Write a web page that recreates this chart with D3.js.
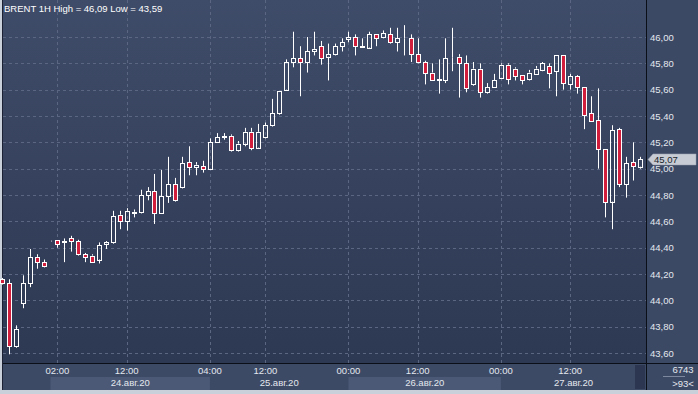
<!DOCTYPE html>
<html>
<head>
<meta charset="utf-8">
<script src="https://cdn.jsdelivr.net/npm/d3@7"></script>
<style>
  html, body { margin: 0; padding: 0; background: #c9d0da; }
  svg { display: block; }
  text { font-family: "Liberation Sans", Arial, sans-serif; }
</style>
</head>
<body>
<div id="chart"></div>
<script>
// BRENT 1H candles
const opens  = [44.16,44.13,43.65,43.98,44.13,44.33,44.29,44.45,44.46,44.44,44.47,44.45,44.35,44.34,44.31,44.43,44.44,44.65,44.60,44.665,
                44.67,44.80,44.83,44.66,44.79,44.88,44.86,45.05,45.01,45.02,45.00,45.20,45.24,45.25,45.14,45.19,45.28,45.16,45.24,45.33,
                45.42,45.60,45.81,45.84,45.81,45.89,45.93,45.85,45.87,45.93,45.985,46.00,45.93,45.92,46.02,46.00,46.02,45.96,45.99,45.99,
                45.87,45.81,45.73,45.676,45.67,45.846,45.85,45.80,45.64,45.76,45.58,45.62,45.69,45.79,45.76,45.71,45.68,45.72,45.75,45.78,
                45.74,45.86,45.64,45.70,45.62,45.42,45.37,45.15,44.75,45.30,44.88,45.05,45.015];
const highs  = [44.17,44.16,43.81,44.19,44.39,44.35,44.31,44.453,44.46,44.47,44.49,44.46,44.36,44.35,44.44,44.45,44.68,44.68,44.70,44.69,
                44.84,44.86,44.96,44.99,45.09,44.93,45.09,45.17,45.05,45.06,45.23,45.27,45.27,45.26,45.21,45.31,45.31,45.34,45.35,45.53,
                45.59,45.83,46.04,45.93,46.00,46.04,45.97,45.95,45.95,45.99,46.04,46.02,45.99,46.04,46.02,46.05,46.07,46.07,46.09,46.02,
                45.99,45.82,45.80,45.83,45.99,46.07,45.87,45.86,45.81,45.80,45.65,45.72,45.80,45.80,45.77,45.71,45.75,45.78,45.81,45.80,
                45.86,45.86,45.72,45.71,45.62,45.55,45.61,45.15,45.33,45.31,45.09,45.20,45.09];
const lows   = [44.12,43.59,43.64,43.94,44.10,44.24,44.25,44.447,44.40,44.29,44.37,44.34,44.29,44.29,44.28,44.39,44.43,44.54,44.53,44.63,
                44.66,44.76,44.58,44.66,44.74,44.75,44.85,44.95,44.95,44.97,45.00,45.20,45.22,45.13,45.13,45.17,45.14,45.15,45.23,45.32,
                45.41,45.59,45.77,45.55,45.73,45.86,45.79,45.67,45.86,45.89,45.96,45.86,45.92,45.91,45.93,45.99,45.95,45.89,45.86,45.81,
                45.80,45.64,45.67,45.57,45.65,45.74,45.54,45.58,45.63,45.54,45.57,45.62,45.68,45.64,45.67,45.64,45.67,45.72,45.74,45.61,
                45.55,45.60,45.60,45.57,45.30,45.36,45.00,44.63,44.54,44.86,44.78,44.91,45.00];
const closes = [44.13,43.65,43.78,44.13,44.33,44.29,44.26,44.45,44.43,44.45,44.45,44.35,44.33,44.29,44.42,44.44,44.64,44.60,44.68,44.672,
                44.80,44.83,44.66,44.79,44.88,44.76,45.04,45.01,45.03,45.00,45.20,45.24,45.245,45.14,45.19,45.28,45.16,45.28,45.33,45.42,
                45.59,45.81,45.84,45.81,45.89,45.91,45.84,45.87,45.93,45.96,46.00,45.93,45.926,46.02,45.99,46.03,45.96,45.99,45.99,45.87,
                45.81,45.73,45.67,45.679,45.84,45.846,45.80,45.61,45.76,45.58,45.62,45.67,45.79,45.68,45.70,45.67,45.73,45.76,45.80,45.73,
                45.86,45.65,45.70,45.62,45.41,45.36,45.15,44.75,45.29,44.88,45.04,45.02,45.07];

// time axis
const timeTickIdx    = [8, 18, 30, 38, 50, 60, 72, 82];
const timeTickLabels = ["02:00", "12:00", "04:00", "12:00", "00:00", "12:00", "00:00", "12:00"];
const dayStartIdx    = [7, 30, 50, 72];
const dayLabels      = ["24.авг.20", "25.авг.20", "26.авг.20", "27.авг.20"];

// price axis
const priceTicks = [43.6, 43.8, 44.0, 44.2, 44.4, 44.6, 44.8, 45.0, 45.2, 45.4, 45.6, 45.8, 46.0];

const width = 698, height = 394;
const plotL = 3, plotR = 646, plotT = 0, plotB = 363;
const axisB = 390;

const svg = d3.select("#chart").append("svg")
    .attr("width", width)
    .attr("height", height);

const defs = svg.append("defs");
const grad = defs.append("linearGradient")
    .attr("id", "bg").attr("x1", 0).attr("y1", 0).attr("x2", 0).attr("y2", 1);
grad.append("stop").attr("offset", "0%").attr("stop-color", "#3f4c69");
grad.append("stop").attr("offset", "100%").attr("stop-color", "#2d3852");

// outer frame
svg.append("rect").attr("x", 0).attr("y", 0).attr("width", width).attr("height", height).attr("fill", "#c9d0da");
svg.append("rect").attr("x", 2).attr("y", 0).attr("width", width - 2).attr("height", axisB).attr("fill", "#1c2233");

// plot area
svg.append("rect")
    .attr("x", plotL).attr("y", plotT)
    .attr("width", plotR - plotL).attr("height", plotB - plotT)
    .attr("fill", "url(#bg)");

// right and bottom panels
svg.append("rect").attr("x", plotR + 1).attr("y", 0).attr("width", width - plotR - 1).attr("height", plotB).attr("fill", "#3c4965");
svg.append("rect").attr("x", plotL).attr("y", plotB + 1).attr("width", plotR - plotL).attr("height", axisB - plotB - 1).attr("fill", "#3d4a66");
svg.append("rect").attr("x", plotR + 1).attr("y", plotB + 1).attr("width", width - plotR - 1).attr("height", axisB - plotB - 1).attr("fill", "#3c4965");

const x = d3.scaleLinear().domain([0, closes.length - 1]).range([2, 639.5]);
const y = d3.scaleLinear().domain([43.6, 46.0]).range([353, 37]);

// date bands
const bandEdges = dayStartIdx.map(i => x(i)).concat([plotR]);
const bands = svg.append("g");
dayStartIdx.forEach((d, k) => {
    const x0 = bandEdges[k], x1 = bandEdges[k + 1];
    if (k % 2 === 0) {
        bands.append("rect")
            .attr("x", x0).attr("y", 377)
            .attr("width", x1 - x0).attr("height", axisB - 377)
            .attr("fill", "#4b5976");
    }
    bands.append("text")
        .attr("x", (x0 + x1) / 2).attr("y", 386)
        .attr("text-anchor", "middle")
        .attr("font-size", "9.5px")
        .attr("fill", "#e4e8ee")
        .text(dayLabels[k]);
});

// small scroll block at the end of the time axis
svg.append("rect").attr("x", 635).attr("y", plotB + 2).attr("width", 10).attr("height", axisB - plotB - 3)
    .attr("fill", "#2c3650");

// grid
const grid = svg.append("g")
    .attr("stroke", "#5b6782")
    .attr("stroke-width", 1)
    .attr("stroke-dasharray", "3,3");

grid.selectAll("line.h")
    .data(priceTicks)
    .enter().append("line")
    .attr("class", "h")
    .attr("x1", plotL).attr("x2", plotR)
    .attr("y1", d => Math.round(y(d)) + 0.5)
    .attr("y2", d => Math.round(y(d)) + 0.5);

grid.selectAll("line.v")
    .data(timeTickIdx)
    .enter().append("line")
    .attr("class", "v")
    .attr("y1", plotT).attr("y2", plotB)
    .attr("x1", d => Math.round(x(d)) + 0.5)
    .attr("x2", d => Math.round(x(d)) + 0.5);

// time tick labels
svg.append("g").selectAll("text")
    .data(timeTickIdx)
    .enter().append("text")
    .attr("x", d => x(d))
    .attr("y", 374)
    .attr("text-anchor", "middle")
    .attr("font-size", "9.5px")
    .attr("fill", "#e4e8ee")
    .text((d, i) => timeTickLabels[i]);

// price labels
svg.append("g").selectAll("text")
    .data(priceTicks)
    .enter().append("text")
    .attr("x", 650)
    .attr("y", d => y(d) + 3.5)
    .attr("font-size", "9.5px")
    .attr("fill", "#e4e8ee")
    .text(d => d3.format(".2f")(d).replace(".", ","));

// candles
const candles = svg.append("g");
const idx = d3.range(closes.length);

candles.selectAll("line.wick-hi")
    .data(idx)
    .enter().append("line")
    .attr("stroke", "#ffffff")
    .attr("x1", i => Math.round(x(i)) + 0.5)
    .attr("x2", i => Math.round(x(i)) + 0.5)
    .attr("y1", i => y(highs[i]))
    .attr("y2", i => y(Math.max(opens[i], closes[i])));

candles.selectAll("line.wick-lo")
    .data(idx)
    .enter().append("line")
    .attr("stroke", "#ffffff")
    .attr("x1", i => Math.round(x(i)) + 0.5)
    .attr("x2", i => Math.round(x(i)) + 0.5)
    .attr("y1", i => y(Math.min(opens[i], closes[i])))
    .attr("y2", i => y(lows[i]));

candles.selectAll("rect")
    .data(idx)
    .enter().append("rect")
    .attr("x", i => Math.round(x(i)) - 2 + 0.5)
    .attr("width", 4)
    .attr("y", i => Math.round(y(Math.max(opens[i], closes[i]))) + 0.5)
    .attr("height", i => Math.max(0, Math.round(y(Math.min(opens[i], closes[i]))) - Math.round(y(Math.max(opens[i], closes[i])))))
    .attr("fill", i => closes[i] < opens[i] ? "#d01e3c" : "none")
    .attr("stroke", "#ffffff")
    .attr("stroke-width", 1);

// separators
svg.append("line").attr("x1", plotR + 0.5).attr("x2", plotR + 0.5).attr("y1", 0).attr("y2", axisB)
    .attr("stroke", "#0b0f18").attr("stroke-width", 1);
svg.append("line").attr("x1", plotL).attr("x2", width).attr("y1", plotB + 0.5).attr("y2", plotB + 0.5)
    .attr("stroke", "#0b0f18").attr("stroke-width", 1);

// last price marker
const last = closes[closes.length - 1];
const ly = y(last);
svg.append("path")
    .attr("d", `M648,${ly} L653,${ly - 5.5} L696,${ly - 5.5} L696,${ly + 5.5} L653,${ly + 5.5} Z`)
    .attr("fill", "#c6cbd4")
    .attr("stroke", "#9aa2b0")
    .attr("stroke-width", 0.5);
svg.append("text")
    .attr("x", 654).attr("y", ly + 3.5)
    .attr("font-size", "9.5px")
    .attr("fill", "#1a1f2b")
    .text(d3.format(".2f")(last).replace(".", ","));

// bar counter in the corner
svg.append("text").attr("x", 683).attr("y", 373).attr("text-anchor", "middle")
    .attr("font-size", "9.5px").attr("fill", "#e4e8ee").text("6743");
svg.append("line").attr("x1", 663).attr("x2", 685).attr("y1", 376.5).attr("y2", 376.5)
    .attr("stroke", "#7d889e").attr("stroke-width", 1);
svg.append("text").attr("x", 683).attr("y", 387).attr("text-anchor", "middle")
    .attr("font-size", "9.5px").attr("fill", "#e4e8ee").text(">" + closes.length + "<");

// title
svg.append("text")
    .attr("x", 4).attr("y", 12)
    .attr("font-size", "9.5px")
    .attr("fill", "#ffffff")
    .text(`BRENT 1H High = ${d3.format(".2f")(d3.max(highs)).replace(".", ",")} Low = ${d3.format(".2f")(d3.min(lows)).replace(".", ",")}`);
</script>
</body>
</html>
